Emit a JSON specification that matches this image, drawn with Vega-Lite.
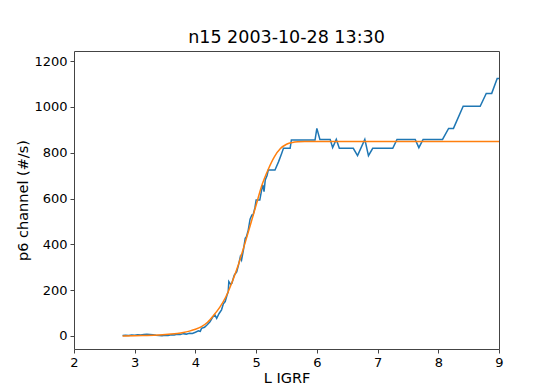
{
  "$schema": "https://vega.github.io/schema/vega-lite/v6.json",
  "width": 425,
  "height": 298,
  "autosize": {"type": "none"},
  "padding": {"left": 74, "top": 51, "right": 46, "bottom": 41},
  "background": "white",
  "title": {"text": "n15 2003-10-28 13:30", "font": "DejaVu Sans", "fontSize": 17.5, "fontWeight": "normal", "color": "#000", "offset": 5},
  "config": {
    "view": {"stroke": "#444", "strokeWidth": 1},
    "axis": {
      "labelFont": "DejaVu Sans", "labelFontSize": 13, "labelColor": "#000", "labelFlush": false,
      "titleFont": "DejaVu Sans", "titleFontSize": 14.5, "titleFontWeight": "normal", "titleColor": "#000",
      "grid": false, "domain": false, "tickColor": "#444", "tickSize": 4, "labelPadding": 3
    }
  },
  "datasets": {
    "blue": [
      {"L": 2.80, "v": 2}, {"L": 2.85, "v": 3}, {"L": 2.90, "v": 2}, {"L": 2.95, "v": 4},
      {"L": 3.00, "v": 3}, {"L": 3.05, "v": 5}, {"L": 3.10, "v": 4}, {"L": 3.15, "v": 6},
      {"L": 3.20, "v": 7}, {"L": 3.25, "v": 6}, {"L": 3.30, "v": 5}, {"L": 3.35, "v": 3},
      {"L": 3.40, "v": 2}, {"L": 3.45, "v": 1}, {"L": 3.50, "v": 3}, {"L": 3.55, "v": 2},
      {"L": 3.60, "v": 5}, {"L": 3.65, "v": 4}, {"L": 3.70, "v": 7}, {"L": 3.75, "v": 6},
      {"L": 3.80, "v": 10}, {"L": 3.85, "v": 8}, {"L": 3.90, "v": 12}, {"L": 3.95, "v": 11},
      {"L": 4.00, "v": 16}, {"L": 4.05, "v": 22}, {"L": 4.08, "v": 20}, {"L": 4.10, "v": 33},
      {"L": 4.15, "v": 38}, {"L": 4.19, "v": 48}, {"L": 4.24, "v": 62}, {"L": 4.28, "v": 80},
      {"L": 4.32, "v": 92}, {"L": 4.35, "v": 77}, {"L": 4.39, "v": 98}, {"L": 4.43, "v": 114},
      {"L": 4.46, "v": 140}, {"L": 4.49, "v": 150}, {"L": 4.52, "v": 178}, {"L": 4.54, "v": 193},
      {"L": 4.55, "v": 237}, {"L": 4.58, "v": 225}, {"L": 4.60, "v": 230}, {"L": 4.64, "v": 266},
      {"L": 4.68, "v": 280}, {"L": 4.71, "v": 310}, {"L": 4.74, "v": 346}, {"L": 4.76, "v": 332},
      {"L": 4.79, "v": 375}, {"L": 4.82, "v": 426}, {"L": 4.84, "v": 433}, {"L": 4.87, "v": 462},
      {"L": 4.90, "v": 510}, {"L": 4.93, "v": 528}, {"L": 4.95, "v": 528}, {"L": 4.98, "v": 560},
      {"L": 5.00, "v": 593}, {"L": 5.06, "v": 593}, {"L": 5.09, "v": 637}, {"L": 5.11, "v": 659},
      {"L": 5.13, "v": 630}, {"L": 5.15, "v": 681}, {"L": 5.18, "v": 700}, {"L": 5.20, "v": 724},
      {"L": 5.31, "v": 724}, {"L": 5.37, "v": 761}, {"L": 5.42, "v": 797}, {"L": 5.45, "v": 819},
      {"L": 5.56, "v": 819}, {"L": 5.58, "v": 855}, {"L": 5.97, "v": 855}, {"L": 6.00, "v": 906},
      {"L": 6.05, "v": 858}, {"L": 6.22, "v": 858}, {"L": 6.26, "v": 822}, {"L": 6.32, "v": 858},
      {"L": 6.37, "v": 819}, {"L": 6.60, "v": 819}, {"L": 6.67, "v": 787}, {"L": 6.79, "v": 858},
      {"L": 6.85, "v": 787}, {"L": 6.92, "v": 819}, {"L": 7.25, "v": 819}, {"L": 7.32, "v": 858},
      {"L": 7.62, "v": 858}, {"L": 7.68, "v": 822}, {"L": 7.75, "v": 858}, {"L": 8.07, "v": 858},
      {"L": 8.17, "v": 906}, {"L": 8.25, "v": 906}, {"L": 8.41, "v": 1003}, {"L": 8.69, "v": 1003},
      {"L": 8.79, "v": 1059}, {"L": 8.88, "v": 1059}, {"L": 8.97, "v": 1124}, {"L": 9.00, "v": 1124}
    ],
    "fit": [
      {"L": 2.8, "v": 0}, {"L": 3.0, "v": 1}, {"L": 3.2, "v": 2}, {"L": 3.4, "v": 4},
      {"L": 3.6, "v": 8}, {"L": 3.7, "v": 11}, {"L": 3.8, "v": 15}, {"L": 3.9, "v": 21},
      {"L": 4.0, "v": 29}, {"L": 4.1, "v": 41}, {"L": 4.2, "v": 60}, {"L": 4.3, "v": 90},
      {"L": 4.4, "v": 125}, {"L": 4.5, "v": 170}, {"L": 4.6, "v": 232}, {"L": 4.7, "v": 305},
      {"L": 4.8, "v": 390}, {"L": 4.9, "v": 480}, {"L": 5.0, "v": 572}, {"L": 5.1, "v": 662},
      {"L": 5.2, "v": 728}, {"L": 5.3, "v": 782}, {"L": 5.4, "v": 818}, {"L": 5.5, "v": 837},
      {"L": 5.6, "v": 845}, {"L": 5.7, "v": 848}, {"L": 5.8, "v": 849}, {"L": 9.0, "v": 849}
    ]
  },
  "encoding": {
    "x": {"field": "L", "type": "quantitative", "title": "L IGRF",
      "scale": {"domain": [2, 9], "nice": false, "zero": false},
      "axis": {"values": [2, 3, 4, 5, 6, 7, 8, 9], "format": "d", "titlePadding": 2}},
    "y": {"field": "v", "type": "quantitative", "title": "p6 channel (#/s)",
      "scale": {"domain": [-57, 1244], "nice": false, "zero": false},
      "axis": {"values": [0, 200, 400, 600, 800, 1000, 1200], "format": "d", "titlePadding": 3}}
  },
  "layer": [
    {"data": {"name": "blue"}, "mark": {"type": "line", "color": "#1f77b4", "strokeWidth": 1.5, "clip": true}},
    {"data": {"name": "fit"}, "mark": {"type": "line", "color": "#ff7f0e", "strokeWidth": 1.5, "interpolate": "monotone", "clip": true}}
  ]
}
